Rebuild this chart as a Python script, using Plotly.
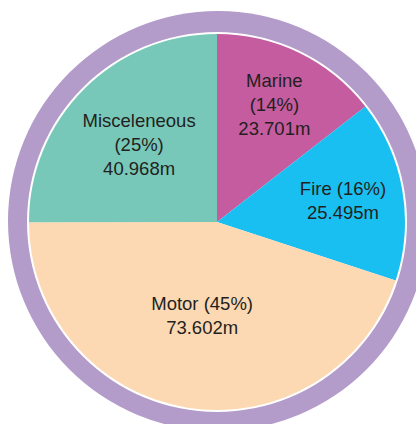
import plotly.graph_objects as go

labels = ["Marine", "Fire", "Motor", "Misceleneous"]
values = [23.701, 25.495, 73.602, 40.968]
separators = ["<br>", " ", " ", "<br>"]
colors = ["#C45C9F", "#19BFF0", "#FCD9B2", "#77C8B9"]

W, H = 416, 424
cx, cy, r = 217, 222, 188

templates = [f"%{{label}}{sep}(%{{percent:.0%}})<br>%{{value:.3f}}m" for sep in separators]

fig = go.Figure(go.Pie(
    labels=labels,
    values=values,
    marker=dict(colors=colors, line=dict(width=0)),
    sort=False,
    direction="clockwise",
    rotation=0,
    texttemplate=templates,
    textposition="inside",
    insidetextorientation="horizontal",
    textfont=dict(family="Liberation Sans, Arial, sans-serif", size=18.5, color="#231F20"),
    hoverinfo="skip",
    showlegend=False,
    domain=dict(x=[(cx - r) / W, (cx + r) / W], y=[1 - (cy + r) / H, 1 - (cy - r) / H]),
))

def circle(x, y, rad, color):
    return dict(type="circle", xref="paper", yref="paper",
                x0=(x - rad) / W, x1=(x + rad) / W,
                y0=1 - (y + rad) / H, y1=1 - (y - rad) / H,
                fillcolor=color, line=dict(width=0), layer="below")

fig.update_layout(
    width=W, height=H,
    margin=dict(l=0, r=0, t=0, b=0),
    paper_bgcolor="white",
    plot_bgcolor="white",
    shapes=[circle(218, 221, 210, "#B39BCA"), circle(cx, cy, 190, "white")],
)

fig.write_html(
    "out.html",
    config={"displayModeBar": False, "staticPlot": True},
    post_script="document.body.style.margin='0';document.body.style.overflow='hidden';",
)
